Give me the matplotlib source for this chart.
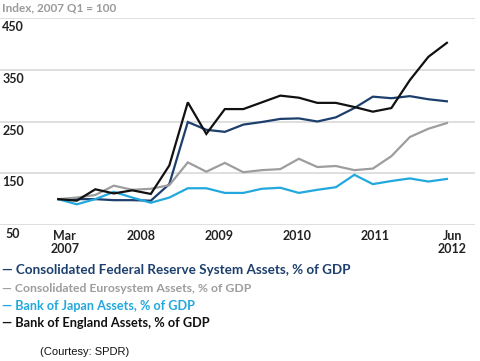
import matplotlib
matplotlib.use("Agg")
import matplotlib.pyplot as plt
from matplotlib.transforms import offset_copy, blended_transform_factory

# quarterly index values, 2007 Q1 = 100
quarters = list(range(22))
fed = [100, 100, 100, 98, 98, 97, 129, 249, 234, 230, 244, 249, 255, 256, 250, 258,
       276, 298, 295, 299, 293, 289]
euro = [100, 103, 108, 126, 118, 120, 127, 171, 153, 170, 152, 156, 158, 178, 162, 164,
        156, 159, 183, 220, 236, 247]
japan = [100, 90, 100, 114, 103, 93, 103, 121, 121, 112, 112, 120, 122, 112, 118, 123,
         147, 129, 135, 140, 134, 139]
england = [100, 97, 119, 111, 117, 110, 165, 287, 226, 274, 274, 287, 300, 296, 286, 286,
           278, 269, 276, 330, 375, 402]

series = [
    ("Consolidated Federal Reserve System Assets, % of GDP", fed, "#1d3f6d"),
    ("Consolidated Eurosystem Assets, % of GDP", euro, "#9d9d9d"),
    ("Bank of Japan Assets, % of GDP", japan, "#22a8dd"),
    ("Bank of England Assets, % of GDP", england, "#111111"),
]

y_ticks = [50, 150, 250, 350, 450]
x_tick_pos = [0.35, 4.5, 8.7, 12.9, 17.1, 21.3]
x_tick_labels = ["Mar\n2007", "2008", "2009", "2010", "2011", "Jun\n2012"]

W, H = 480, 361
fig = plt.figure(figsize=(W / 100, H / 100), dpi=100)
font = "Lato"

# axes spans the grid area: x 0..475 px, y 18..225 px
ax = fig.add_axes([0, 1 - 225 / H, 475 / W, (225 - 18) / H])
ax.set_xlim(-3.15, 22.52)
ax.set_ylim(50, 450)
ax.axis("off")

for v in y_ticks:
    ax.axhline(v, color="#dcdcdc", lw=1.3, zorder=0)

for name, vals, col in series:
    ax.plot(quarters, vals, color=col, lw=1.6, solid_joinstyle="miter", zorder=3)

# y labels sit just under their gridlines at the left edge
tr = blended_transform_factory(ax.transAxes, ax.transData)
tr = offset_copy(tr, fig=fig, x=0, y=-3, units="dots")
for v in y_ticks:
    ax.text(13 / 475, v, str(v), transform=tr, ha="center", va="top",
            fontsize=9, color="#222222", family=font, fontweight="bold")

trx = offset_copy(ax.transData, fig=fig, x=0, y=-5, units="dots")
for p, lab in zip(x_tick_pos, x_tick_labels):
    ax.text(p, 50, lab, transform=trx, ha="center", va="top", fontsize=9,
            color="#222222", family=font, fontweight="bold", linespacing=1.1)

fig.text(2 / W, 1 - 8 / H, "Index, 2007 Q1 = 100", ha="left", va="center",
         fontsize=8.5, color="#9a9a9a", family=font, fontweight="bold")

legend_y = [270, 288, 305.5, 323]
legend_size = [9.7, 8.85, 9.1, 9.2]
for (name, vals, col), yy, fs in zip(series, legend_y, legend_size):
    fig.text(2 / W, 1 - yy / H, "\u2014 " + name, ha="left", va="center",
             fontsize=fs, color=col, family=font, fontweight="bold")

fig.text(40 / W, 1 - 352 / H, "(Courtesy: SPDR)", ha="left", va="center",
         fontsize=8, color="#111111", family="Liberation Sans")

fig.savefig("out.png", dpi=100)
